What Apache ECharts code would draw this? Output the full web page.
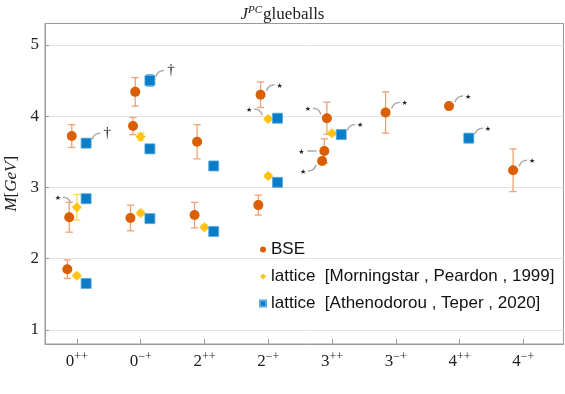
<!DOCTYPE html>
<html><head><meta charset="utf-8">
<script src="https://cdn.jsdelivr.net/npm/echarts@6/dist/echarts.min.js"></script>
<style>html,body{margin:0;padding:0;background:#fff}#c{width:565px;height:394px}</style>
</head><body><div id="c"></div>
<script>
// ---- data ----
const categories = ['0++','0-+','2++','2-+','3++','3-+','4++','4-+'];
const catBase = ['0','0','2','2','3','3','4','4'];
const catSup  = ['++','\u2212+','++','\u2212+','++','\u2212+','++','\u2212+'];
const yTicks = [1,2,3,4,5];
const xTicks = [0,1,2,3,4,5,6,7];

// BSE
const bseCat   = [0,0,0,1,1,1,2,2,3,3,4,4,4,5,6,7];
const bseMass  = [1.85,2.58,3.72,2.57,3.86,4.34,2.61,3.64,2.75,4.30,3.37,3.51,3.97,4.05,4.14,3.24];
const bseErr   = [0.13,0.21,0.16,0.18,0.12,0.20,0.18,0.24,0.14,0.18,0.04,0.17,0.225,0.29,0,0.30];
const bseShift = [-0.15,-0.12,-0.08,-0.16,-0.12,-0.085,-0.155,-0.115,-0.155,-0.12,-0.155,-0.12,-0.08,-0.16,-0.165,-0.16];

// lattice [Morningstar, Peardon, 1999]
const mpCat  = [0,0,1,1,2,3,3,4];
const mpMass = [1.76,2.72,2.64,3.71,2.44,3.16,3.96,3.76];
const mpErr  = [0.03,0.18,0.03,0.05,0.03,0.03,0.03,0.03];
const mpShift = 0;

// lattice [Athenodorou, Teper, 2020]
const atCat  = [0,0,0,1,1,1,2,2,3,3,4,6];
const atMass = [1.65,2.84,3.62,2.56,3.54,4.50,2.38,3.30,3.07,3.97,3.74,3.69];
const atErr  = [0.03,0.03,0.05,0.03,0.05,0.08,0.03,0.03,0.03,0.03,0.03,0.04];
const atShift = 0.145;

// annotations: [series, index, side, mark]
const notes = [
  ['mp',1,'L','*'], ['at',2,'R','\u2020'], ['at',5,'R','\u2020'], ['bse',9,'R','*'],
  ['mp',6,'L','*'], ['bse',12,'L','*'], ['at',10,'R','*'], ['bse',11,'LS','*'],
  ['bse',10,'LD','*'], ['bse',13,'R','*'], ['bse',14,'R','*'], ['at',11,'R','*'], ['bse',15,'R','*']
];

const names = ['BSE','lattice  [Morningstar , Peardon , 1999]','lattice  [Athenodorou , Teper , 2020]'];
const colors = ['#D95F02','#FFC20E','#0A7DC6'];
const errColors = ['#EFA273','#FFD95E','#62ADE2'];

// ---- build ----
const bsePts = bseCat.map((c,i)=>[c+bseShift[i], bseMass[i], bseErr[i]]);
const mpPts  = mpCat.map((c,i)=>[c+mpShift, mpMass[i], mpErr[i]]);
const atPts  = atCat.map((c,i)=>[c+atShift, atMass[i], atErr[i]]);
const ptsBy = {bse:bsePts, mp:mpPts, at:atPts};
const notePts = notes.map(n=>{const p=ptsBy[n[0]][n[1]]; return [p[0],p[1]];});

const SERIF = 'Liberation Serif';

function errRender(color){
  return function(params, api){
    const x=api.value(0), y=api.value(1), e=api.value(2);
    if(!e) return null;
    const t=api.coord([x,y+e]), b=api.coord([x,y-e]);
    const w=3.6, st={stroke:color, lineWidth:1.3};
    return {type:'group', children:[
      {type:'line', shape:{x1:t[0],y1:t[1],x2:b[0],y2:b[1]}, style:st},
      {type:'line', shape:{x1:t[0]-w,y1:t[1],x2:t[0]+w,y2:t[1]}, style:st},
      {type:'line', shape:{x1:b[0]-w,y1:b[1],x2:b[0]+w,y2:b[1]}, style:st}
    ]};
  };
}

function noteRender(params, api){
  const p = api.coord([api.value(0), api.value(1)]);
  const n = notes[params.dataIndex];
  const side=n[2], mark=n[3];
  const X=p[0], Y=p[1];
  let curve, tx, ty;
  if(side==='R'){
    curve={x1:X+6,y1:Y-4,cpx1:X+8,cpy1:Y-10,x2:X+14,y2:Y-10};
    tx=X+19; ty=Y-9;
  } else if(side==='L'){
    curve={x1:X-6,y1:Y-4,cpx1:X-8,cpy1:Y-10,x2:X-14,y2:Y-10};
    tx=X-19; ty=Y-9;
  } else if(side==='LD'){
    curve={x1:X-6,y1:Y+4,cpx1:X-8,cpy1:Y+10,x2:X-14,y2:Y+10};
    tx=X-19; ty=Y+11;
  } else {
    curve={x1:X-8,y1:Y,cpx1:X-12,cpy1:Y,x2:X-17,y2:Y};
    tx=X-23; ty=Y+1;
  }
  const isDagger = mark!=='*';
  if(isDagger){ tx+=2; ty-=1; }
  return {type:'group', children:[
    {type:'bezierCurve', shape:curve, style:{stroke:'#A8A8A8', lineWidth:1.5, fill:null}},
    {type:'text', style:{text: isDagger?mark:'\u2605', x:tx, y:ty, align:'center', verticalAlign:'middle',
      fontSize: isDagger?15:7, fontFamily: isDagger?SERIF:'DejaVu Sans', fill:'#222'}}
  ]};
}

const chart = echarts.init(document.getElementById('c'), null, {renderer:'canvas'});
chart.setOption({
  animation:false,
  title:{
    text:'{i|J}{s|PC}{r|glueballs}', left:'center', top:0,
    textStyle:{fontWeight:'normal', rich:{
      i:{fontFamily:SERIF, fontStyle:'italic', fontWeight:'normal', fontSize:17, color:'#222', verticalAlign:'bottom'},
      s:{fontFamily:SERIF, fontStyle:'italic', fontWeight:'normal', fontSize:11, color:'#222', verticalAlign:'bottom', padding:[0,1,7,0]},
      r:{fontFamily:SERIF, fontWeight:'normal', fontSize:17, color:'#222', verticalAlign:'bottom'}
    }}
  },
  grid:{left:45, right:1.5, top:23.5, bottom:50, show:true, borderColor:'#9a9a9a', borderWidth:1,
    containLabel:false, outerBoundsMode:'none'},
  legend:{
    orient:'vertical', left:259, top:240, padding:0, itemGap:8, itemWidth:6, itemHeight:6,
    data:[{name:names[0], icon:'circle'},{name:names[1], icon:'diamond'},{name:names[2], icon:'rect'}],
    textStyle:{fontFamily:'Liberation Sans', fontSize:17, color:'#111', lineHeight:19}
  },
  xAxis:{
    type:'value', min:-0.5, max:7.63,
    axisLine:{show:true, onZero:false, lineStyle:{color:'#9a9a9a'}},
    axisTick:{show:true, inside:true, length:5, customValues:xTicks, lineStyle:{color:'#9a9a9a'}},
    axisLabel:{customValues:xTicks, margin:7,
      formatter:v=>{const k=Math.round(v); return '{b|'+catBase[k]+'}{s|'+catSup[k]+'}';},
      rich:{
        b:{fontFamily:SERIF, fontSize:17, color:'#222', verticalAlign:'bottom'},
        s:{fontFamily:SERIF, fontSize:12, color:'#222', verticalAlign:'bottom', padding:[0,0,7,0]}
      }},
    splitLine:{show:false}
  },
  yAxis:{
    type:'value', min:0.8, max:5.3,
    name:'{i|M}{r|[}{i|GeV}{r|]}', nameLocation:'middle', nameGap:25, nameRotate:90,
    nameTextStyle:{rich:{
      i:{fontFamily:SERIF, fontStyle:'italic', fontSize:17, color:'#222'},
      r:{fontFamily:SERIF, fontSize:17, color:'#222'}
    }},
    axisLine:{show:true, onZero:false, lineStyle:{color:'#9a9a9a'}},
    axisTick:{show:true, inside:true, length:4, customValues:yTicks, lineStyle:{color:'#9a9a9a'}},
    axisLabel:{customValues:yTicks, margin:6, fontFamily:SERIF, fontSize:17, color:'#222'},
    splitLine:{show:true, lineStyle:{color:'#e3e3e3'}}
  },
  series:[
    {type:'custom', name:'notes', renderItem:noteRender, data:notePts, z:1, silent:true},
    {type:'custom', name:'errBSE', renderItem:errRender(errColors[0]), data:bsePts, z:2, silent:true},
    {type:'custom', name:'errMP', renderItem:errRender(errColors[1]), data:mpPts, z:2, silent:true},
    {type:'custom', name:'errAT', renderItem:errRender(errColors[2]), data:atPts, z:2, silent:true},
    {type:'scatter', name:names[0], symbol:'circle', symbolSize:10, data:bsePts.map(p=>[p[0],p[1]]),
      itemStyle:{color:colors[0], opacity:1}, z:3},
    {type:'scatter', name:names[1], symbol:'diamond', symbolSize:10, data:mpPts.map(p=>[p[0],p[1]]),
      itemStyle:{color:colors[1], opacity:1}, z:3},
    {type:'scatter', name:names[2], symbol:'rect', symbolSize:10, data:atPts.map(p=>[p[0],p[1]]),
      itemStyle:{color:colors[2], opacity:1, borderColor:'#55A8E0', borderWidth:0.8}, z:3}
  ]
});
</script></body></html>
